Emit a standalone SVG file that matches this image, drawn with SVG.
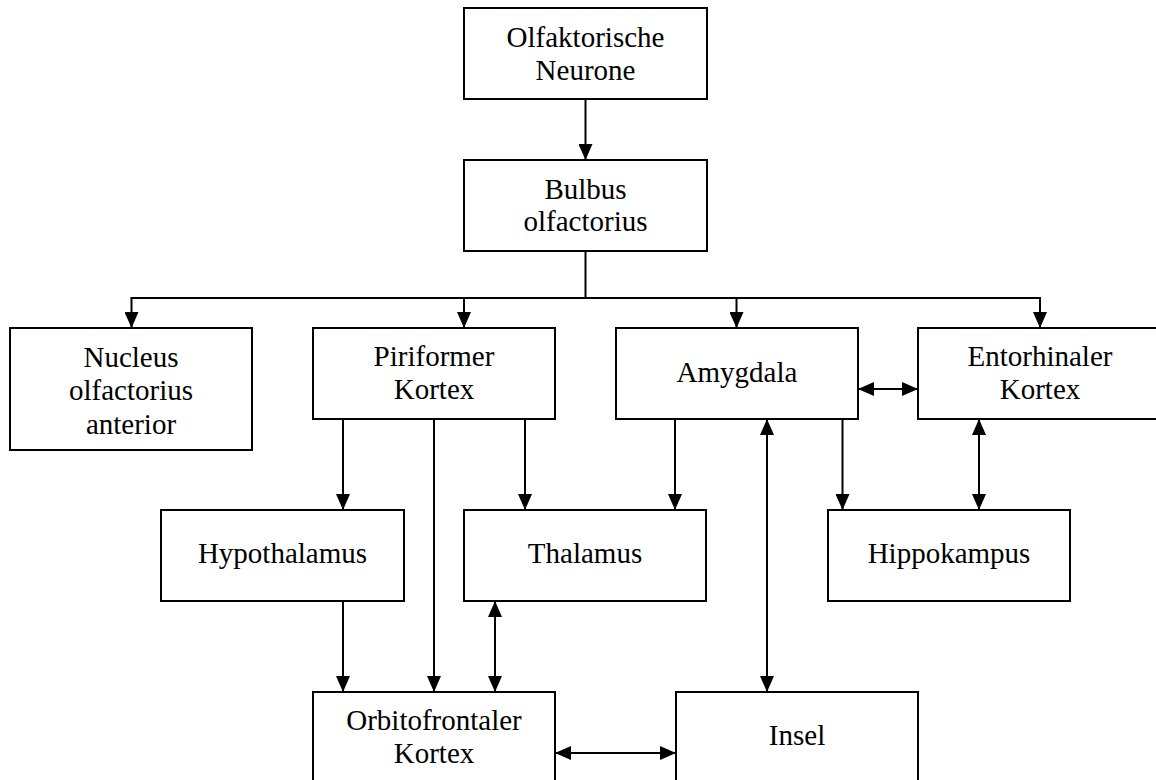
<svg xmlns="http://www.w3.org/2000/svg" width="1156" height="780" viewBox="0 0 1156 780">
<style>
.box{fill:#fff;stroke:#000;stroke-width:2}
.lbl{font-family:"Liberation Serif","Times New Roman",serif;font-size:29px;fill:#000;text-anchor:middle}
.con{fill:none;stroke:#000;stroke-width:2}
.one{marker-end:url(#ah)}
.two{marker-start:url(#ah);marker-end:url(#ah)}
</style>
<defs>
<marker id="ah" markerUnits="userSpaceOnUse" markerWidth="16" markerHeight="14" refX="16" refY="7" orient="auto-start-reverse" viewBox="0 0 16 14">
<path d="M0,0 L16,7 L0,14 z" fill="#000"/>
</marker>
</defs>
<rect width="1156" height="780" fill="#fff"/>
<g id="connectors">
<line class="con one" x1="585.5" y1="99" x2="585.5" y2="160"/>
<line class="con" x1="585.5" y1="251" x2="585.5" y2="298"/>
<line class="con" x1="130.5" y1="298" x2="1041" y2="298"/>
<line class="con one" x1="131.5" y1="298" x2="131.5" y2="328"/>
<line class="con one" x1="464" y1="298" x2="464" y2="328"/>
<line class="con one" x1="736.5" y1="298" x2="736.5" y2="328"/>
<line class="con one" x1="1040" y1="298" x2="1040" y2="328"/>
<line class="con two" x1="858" y1="389" x2="918" y2="389"/>
<line class="con one" x1="343" y1="419" x2="343" y2="510"/>
<line class="con one" x1="434" y1="419" x2="434" y2="692"/>
<line class="con one" x1="525" y1="419" x2="525" y2="510"/>
<line class="con one" x1="675" y1="419" x2="675" y2="510"/>
<line class="con two" x1="767" y1="419" x2="767" y2="692"/>
<line class="con one" x1="842.5" y1="419" x2="842.5" y2="510"/>
<line class="con two" x1="979" y1="419" x2="979" y2="510"/>
<line class="con one" x1="343" y1="601" x2="343" y2="692"/>
<line class="con two" x1="495" y1="601" x2="495" y2="692"/>
<line class="con two" x1="555" y1="753" x2="676" y2="753"/>
</g>
<g id="olfaktorische-neurone">
<rect class="box" x="464" y="8" width="243" height="91"/>
<text class="lbl" x="585.5" y="47">Olfaktorische</text>
<text class="lbl" x="585.5" y="80">Neurone</text>
</g>
<g id="bulbus-olfactorius">
<rect class="box" x="464" y="160" width="243" height="91"/>
<text class="lbl" x="585.5" y="199">Bulbus</text>
<text class="lbl" x="585.5" y="231">olfactorius</text>
</g>
<g id="nucleus-olfactorius-anterior">
<rect class="box" x="10" y="328" width="242" height="122"/>
<text class="lbl" x="131" y="367">Nucleus</text>
<text class="lbl" x="131" y="400">olfactorius</text>
<text class="lbl" x="131" y="434">anterior</text>
</g>
<g id="piriformer-kortex">
<rect class="box" x="313" y="328" width="242" height="91"/>
<text class="lbl" x="434" y="366">Piriformer</text>
<text class="lbl" x="434" y="399">Kortex</text>
</g>
<g id="amygdala">
<rect class="box" x="616" y="328" width="242" height="91"/>
<text class="lbl" x="737" y="382">Amygdala</text>
</g>
<g id="entorhinaler-kortex">
<rect class="box" x="918" y="328" width="242" height="91"/>
<text class="lbl" x="1040" y="366">Entorhinaler</text>
<text class="lbl" x="1040" y="399">Kortex</text>
</g>
<g id="hypothalamus">
<rect class="box" x="161" y="510" width="243" height="91"/>
<text class="lbl" x="282.5" y="563">Hypothalamus</text>
</g>
<g id="thalamus">
<rect class="box" x="464" y="510" width="242" height="91"/>
<text class="lbl" x="585" y="563">Thalamus</text>
</g>
<g id="hippokampus">
<rect class="box" x="828" y="510" width="242" height="91"/>
<text class="lbl" x="949" y="563">Hippokampus</text>
</g>
<g id="orbitofrontaler-kortex">
<rect class="box" x="313" y="692" width="242" height="100"/>
<text class="lbl" x="434" y="730">Orbitofrontaler</text>
<text class="lbl" x="434" y="763">Kortex</text>
</g>
<g id="insel">
<rect class="box" x="676" y="692" width="242" height="100"/>
<text class="lbl" x="797" y="745">Insel</text>
</g>
</svg>
